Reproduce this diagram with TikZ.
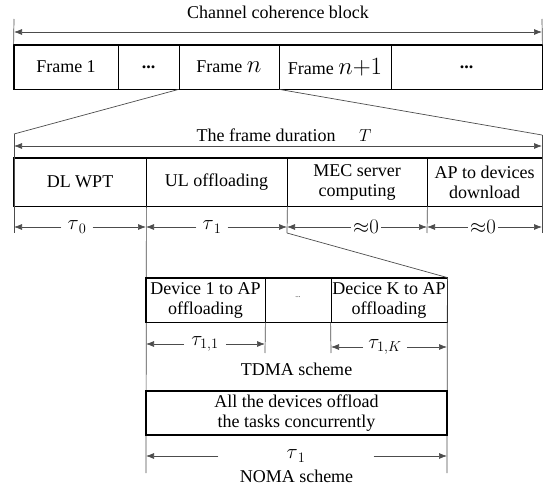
\documentclass[tikz,border=0pt]{standalone}
\usepackage{fontspec}
\setmainfont{Liberation Serif}
\usetikzlibrary{arrows.meta, positioning}
\newcommand{\mbig}[1]{{\fontsize{21}{24}\selectfont$#1$}}

\begin{document}
\begin{tikzpicture}[x=1pt, y=-1pt, font=\fontsize{18}{20}\selectfont,
    >={Latex[length=8pt, width=6pt]},
    cell/.style={draw, line width=0.8pt, minimum height=44pt, inner sep=0pt, align=center},
    outline/.style={draw, line width=1.6pt},
    tick/.style={draw=black!70, line width=0.7pt},
    span/.style={draw=black!70, line width=0.7pt},
    dur/.style={inner sep=3pt}
]
    \useasboundingbox (0,0) rectangle (543,486);
    % channel coherence block
    \node (cohtxt) at (278,12) {Channel coherence block};
    \coordinate (cl) at (14,32);
    \coordinate (cr) at (542,32);
    \draw[span, <->] (cl) -- (cr);
    \node[cell, minimum width=104pt] (f1) at (66,67) {Frame 1};
    \node[cell, minimum width=61pt] (fd1) at (148.5,67) {\textbf{...}};
    \node[cell, minimum width=100pt] (fn) at (229,67) {Frame {\fontsize{23}{24}\selectfont$n$}};
    \node[cell, minimum width=112pt] (fn1) at (335,67) {Frame {\fontsize{23}{24}\selectfont$n{+}1$}};
    \node[cell, minimum width=151pt] (fd2) at (466.5,67) {\textbf{...}};
    \draw[outline] (f1.north west) rectangle (fd2.south east);
    \draw[tick] (14,19) -- (f1.north west);
    \draw[tick] (542,19) -- (fd2.north east);
    % zoom into frame n
    \coordinate (zl) at (14,134);
    \coordinate (zr) at (542,135);
    \draw[span] (fn.south west) -- (zl);
    \draw[span] (fn.south east) -- (zr);
    \node (durtxt) at (284,135) {The frame duration\hspace{1.3em}$T$};
    \coordinate (tl) at (14,146);
    \coordinate (tr) at (542,146);
    \draw[span, <->] (tl) -- (tr);
    % phases of one frame
    \node[cell, minimum width=132pt, minimum height=48pt] (wpt) at (80,182) {DL WPT};
    \node[cell, minimum width=141pt, minimum height=48pt] (ul) at (216.5,182) {UL offloading};
    \node[cell, minimum width=140pt, minimum height=48pt] (mec) at (357,182) {MEC server\\computing};
    \node[cell, minimum width=115pt, minimum height=48pt] (apdl) at (484.5,182) {AP to devices\\download};
    \draw[outline] (wpt.north west) rectangle (apdl.south east);
    \draw[tick] (zl) -- (14,233);
    \draw[tick] (zr) -- (542,233);
    \draw[tick] (ul.south east) -- (287,233);
    \draw[tick] (mec.south east) -- (427,233);
    \draw[tick] (wpt.south east) -- (146,473);
    \coordinate (p0) at (14,227);
    \coordinate (p1) at (146,227);
    \coordinate (p2) at (287,227);
    \coordinate (p3) at (427,227);
    \coordinate (p4) at (542,227);
    \node[dur, inner sep=6pt] (t0) at (77,227) {\mbig{\tau_{\,0}}};
    \node[dur, inner sep=6pt] (t1) at (212,227) {\mbig{\tau_{\,1}}};
    \node[dur, inner sep=2pt] (a0) at (366,227) {\mbig{{\approx}0}};
    \node[dur, inner sep=2pt] (a1) at (483,227) {\mbig{{\approx}0}};
    \draw[span, ->] (t0) -- (p0);
    \draw[span, ->] (t0) -- (p1);
    \draw[span, ->] (t1) -- (p1);
    \draw[span, ->] (t1) -- (p2);
    \draw[span, ->] (a0) -- (p2);
    \draw[span, ->] (a0) -- (p3);
    \draw[span, ->] (a1) -- (p3);
    \draw[span, ->] (a1) -- (p4);
    % TDMA scheme
    \node[cell, minimum width=119pt] (d1) at (205.5,300) {Device 1 to AP\\offloading};
    \node[cell, minimum width=66pt] (dd) at (298,300) {\raisebox{5pt}{\scriptsize ...}};
    \node[cell, minimum width=116pt] (dK) at (389,300) {Decice K to AP\\offloading};
    \draw[outline] (d1.north west) rectangle (dK.south east);
    \coordinate (sl) at (287,233);
    \draw[span] (sl) -- (dK.north east);
    \draw[tick] (dK.north east) -- (447,473);
    \draw[tick] (d1.south east) -- (265,353);
    \draw[tick] (dK.south west) -- (331,353);
    \coordinate (q0) at (146,344);
    \coordinate (q1) at (265,344);
    \coordinate (q2) at (331,347);
    \coordinate (q3) at (447,347);
    \node[dur, inner sep=7pt] (t11) at (205,344) {\mbig{\tau_{1,1}}};
    \node[dur, inner sep=5pt] (t1k) at (385,347) {\mbig{\tau_{1,K}}};
    \draw[span, ->] (t11) -- (q0);
    \draw[span, ->] (t11) -- (q1);
    \draw[span, ->] (t1k) -- (q2);
    \draw[span, ->] (t1k) -- (q3);
    \node (tdma) at (296.5,369) {TDMA scheme};
    % NOMA scheme
    \node[cell, minimum width=301pt, line width=1.6pt] (noma) at (296.5,413) {All the devices offload\\the tasks concurrently};
    \coordinate (r0) at (146,456);
    \coordinate (r1) at (447,456);
    \node[dur, minimum width=155pt] (t1n) at (296,456) {\mbig{\tau_{\,1}}};
    \draw[span, ->] (t1n) -- (r0);
    \draw[span, ->] (t1n) -- (r1);
    \node[inner sep=1pt] (nomatxt) at (296.5,476) {NOMA scheme};
\end{tikzpicture}
\end{document}
